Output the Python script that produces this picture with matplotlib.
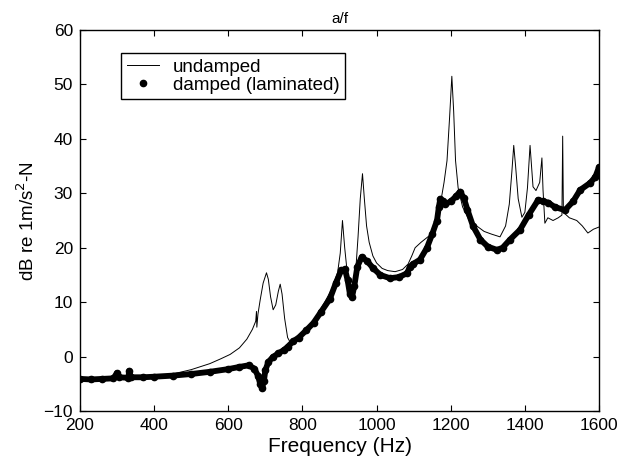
import matplotlib

matplotlib.use("Agg")
import matplotlib.pyplot as plt
from matplotlib.lines import Line2D

plt.rcParams["font.family"] = ["Liberation Sans", "DejaVu Sans"]

# undamped plate
undamped_f = [
    200, 250, 300, 350, 400, 450, 500, 550, 580, 605, 630, 650, 665, 674, 676, 677,
    680, 686, 694, 703, 708, 714, 721, 728, 735, 740, 745, 752, 760, 768, 780, 800,
    830, 860, 880, 895, 902, 908, 914, 920, 926, 932, 938, 945, 950, 956, 962, 967,
    973, 980, 990, 1000, 1015, 1030, 1050, 1070, 1085, 1095, 1104, 1120, 1144, 1160,
    1172, 1182, 1190, 1197, 1203, 1208, 1213, 1220, 1232, 1250, 1270, 1290, 1310,
    1333, 1348, 1358, 1365, 1370, 1375, 1382, 1392, 1400, 1407, 1414, 1418, 1422,
    1430, 1440, 1446, 1449, 1454, 1462, 1476, 1490, 1500, 1502, 1504, 1520, 1540,
    1555, 1570, 1585, 1600,
]
undamped_db = [
    -4.0, -4.1, -3.9, -3.8, -3.6, -3.2, -2.4, -1.3, -0.4, 0.4, 1.6, 3.2, 5.0, 6.5, 8.3, 5.4,
    7.8, 10.4, 13.5, 15.4, 14.2, 11.0, 8.6, 9.5, 12.0, 13.3, 11.5, 7.0, 3.5, 2.5, 2.6, 4.0,
    6.5, 10.0, 12.5, 15.5, 19.0, 25.0, 20.0, 16.0, 13.0, 11.5, 13.0, 17.0, 22.0, 29.0, 33.6, 29.0,
    24.0, 21.0, 18.5, 17.2, 16.2, 15.8, 15.6, 16.0, 17.0, 18.5, 20.0, 21.0, 22.3, 24.5,
    28.0, 32.0, 36.0, 44.0, 51.5, 45.0, 36.0, 31.0, 27.5, 25.0, 24.0, 23.0, 22.5,
    22.0, 24.0, 28.0, 34.0, 38.8, 35.0, 29.0, 25.6, 26.5, 31.0, 38.8, 35.0, 31.2,
    30.5, 32.0, 36.5, 30.6, 24.5, 25.5, 25.0, 25.5, 26.0, 40.5, 26.5, 25.5, 25.0,
    24.0, 22.7, 23.4, 23.8,
]

# damped (laminated) plate
damped_f = [
    200, 230, 260, 290, 300, 305, 330, 333, 337, 370, 400, 450, 500, 550, 600, 630,
    655, 670, 680, 686, 691, 696, 700, 708, 720, 735, 750, 760, 775, 790, 810, 830,
    850, 874, 890, 905, 915, 922, 928, 934, 940, 948, 960, 975, 990, 1010, 1036, 1060,
    1082, 1090, 1098, 1117, 1136, 1150, 1163, 1168, 1172, 1178, 1185, 1200, 1215, 1225,
    1235, 1245, 1260, 1280, 1300, 1325, 1340, 1360, 1387, 1410, 1436, 1450, 1463, 1480,
    1508, 1530, 1549, 1576, 1590, 1600,
]
damped_db = [
    -4.1, -4.2, -4.1, -4.0, -3.0, -3.8, -3.9, -2.6, -3.8, -3.8, -3.7, -3.5, -3.2, -2.8, -2.3, -1.9,
    -1.6, -2.2, -3.5, -5.0, -5.8, -4.5, -2.5, -1.0, -0.1, 0.6, 1.2, 1.8, 2.8, 3.5, 4.8, 6.2,
    8.2, 10.6, 13.5, 15.9, 16.0, 14.0, 11.5, 11.0, 13.0, 16.5, 18.3, 17.5, 16.3, 15.0, 14.4, 14.6,
    15.3, 16.5, 17.0, 17.8, 20.0, 22.5, 25.0, 27.5, 29.0, 28.5, 28.0, 28.5, 29.5, 30.3,
    29.2, 27.0, 24.0, 21.5, 20.2, 19.6, 20.0, 21.5, 23.3, 26.0, 28.8, 28.5, 28.3, 27.5,
    26.9, 28.5, 30.6, 31.9, 33.0, 34.8,
]

fig = plt.figure(figsize=(6.34, 4.66), dpi=100)
ax = fig.add_axes([0.1262, 0.118, 0.8186, 0.8176])

ax.plot(damped_f, damped_db, color="black", lw=4.2, solid_capstyle="round",
        solid_joinstyle="round", marker="o", ms=4.5, zorder=2)
ax.plot(undamped_f, undamped_db, color="black", lw=0.7, zorder=3)

ax.set_xlim(200, 1600)
ax.set_ylim(-10, 60)
ax.set_xticks(range(200, 1601, 200))
ax.set_yticks(range(-10, 61, 10))
ax.tick_params(direction="in", length=4, width=0.8, top=True, right=True,
               labelsize=12.5)
ax.tick_params(axis="x", pad=5)
ax.tick_params(axis="y", pad=5)
for s in ax.spines.values():
    s.set_linewidth(1.0)

ax.set_xlabel("Frequency (Hz)", fontsize=15, labelpad=3)
ax.set_ylabel("dB re 1m/s$^2$-N", fontsize=13.5, labelpad=4)
ax.set_title("a/f", fontsize=11, pad=5)

handles = [
    Line2D([], [], color="black", lw=0.7),
    Line2D([], [], color="black", ls="none", marker="o", ms=4.5),
]
leg = ax.legend(handles, ["undamped", "damped (laminated)"], loc="upper left",
                bbox_to_anchor=(0.079, 0.94), borderaxespad=0, fontsize=13.5,
                handlelength=1.75, handletextpad=0.7, labelspacing=0.05,
                borderpad=0.3, fancybox=False, framealpha=1)
leg.get_frame().set_edgecolor("black")
leg.get_frame().set_linewidth(1.0)

fig.savefig("out.png", dpi=100)
